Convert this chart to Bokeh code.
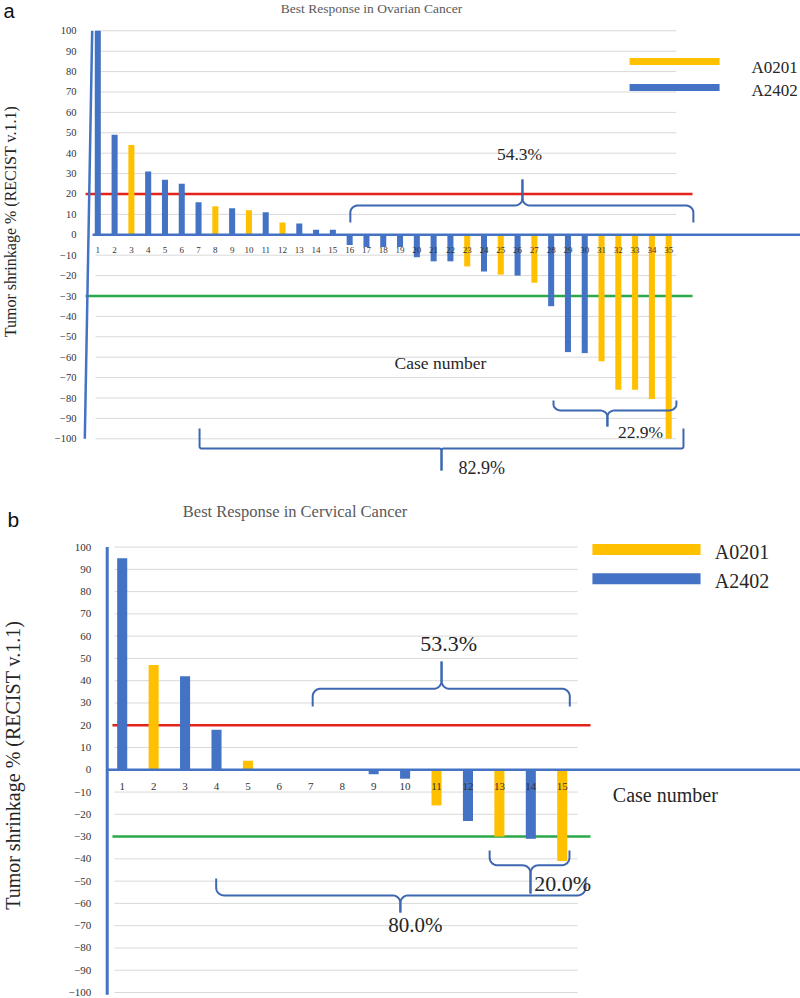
import numpy as np
from bokeh.plotting import figure
from bokeh.layouts import column
from bokeh.models import Range1d, FixedTicker, ColumnDataSource
from bokeh.core.properties import value
from bokeh.embed import file_html
from bokeh.resources import INLINE

# ---------------- data ----------------
cases_a = list(range(1, 36))
shrink_a = [100, 49, 44, 31, 27, 25, 16, 14, 13, 12, 11, 6, 5.5, 2.5, 2.5,
            -5, -6, -6, -6, -11, -13, -13, -15.5, -18, -19.5, -20, -23.5,
            -35, -57.5, -58, -62, -76, -76, -80.5, -100]
hla_a = ["A2402", "A2402", "A0201", "A2402", "A2402", "A2402", "A2402", "A0201",
         "A2402", "A0201", "A2402", "A0201", "A2402", "A2402", "A2402",
         "A2402", "A2402", "A2402", "A2402", "A2402", "A2402", "A2402",
         "A0201", "A2402", "A0201", "A2402", "A0201",
         "A2402", "A2402", "A2402", "A0201", "A0201", "A0201", "A0201", "A0201"]

cases_b = list(range(1, 16))
shrink_b = [95, 47, 42, 18, 4, 0, 0, 0, -2, -4, -16, -23, -30, -31, -41]
hla_b = ["A2402", "A0201", "A2402", "A2402", "A0201", "A2402", "A2402", "A2402",
         "A2402", "A2402", "A0201", "A2402", "A0201", "A2402", "A0201"]

y_ticks = list(range(-100, 101, 10))
thresholds = [20, -30]          # progression / partial response lines
groups = ["A0201", "A2402"]
pct_a = ["54.3%", "22.9%", "82.9%"]
pct_b = ["53.3%", "20.0%", "80.0%"]

COL = {"A0201": "#FFC000", "A2402": "#4472C4"}
AX = "#4472C4"
SERIF = "Liberation Serif"


def brace(x0, x1, y, yend, xtip, ytip, rx, ry, n=14):
    se = np.sign(yend - y)
    st = np.sign(ytip - y)
    th = np.linspace(0, np.pi / 2, n)
    lx, ly = [x0], [yend]
    cx, cy = x0 + rx, y + se * ry
    lx += list(cx - rx * np.cos(th)); ly += list(cy - se * ry * np.sin(th))
    cx, cy = xtip - rx, y + st * ry
    lx += list(cx + rx * np.sin(th)); ly += list(cy - st * ry * np.cos(th))
    lx += [xtip]; ly += [ytip]
    rxs, rys = [x1], [yend]
    cx, cy = x1 - rx, y + se * ry
    rxs += list(cx + rx * np.cos(th)); rys += list(cy - se * ry * np.sin(th))
    cx, cy = xtip + rx, y + st * ry
    rxs += list(cx - rx * np.sin(th)); rys += list(cy - st * ry * np.cos(th))
    rxs += [xtip]; rys += [ytip]
    return [lx, rxs], [ly, rys]


def txt(p, x, y, s, size, font=SERIF, color="#262626", align="center",
        baseline="middle", angle=0.0):
    p.text(x=[x], y=[y], text=[s], text_font=value(font),
           text_font_size=value(size), text_color=color, text_align=align,
           text_baseline=baseline, angle=angle)


def make_panel(h, xr, yr, cases, vals, hla, yaxis_x, ytick_size, xtick_size,
               xstand, ystand):
    p = figure(width=800, height=h, x_range=Range1d(*xr), y_range=Range1d(*yr),
               output_backend="svg", toolbar_location=None, title=None,
               min_border=0, min_border_left=0, min_border_right=0,
               min_border_top=0, min_border_bottom=0)
    p.outline_line_color = None
    p.xgrid.visible = False
    p.ygrid.visible = False
    p.background_fill_color = "white"

    xa = p.xaxis[0]
    xa.fixed_location = 0
    xa.ticker = FixedTicker(ticks=cases)
    xa.axis_line_color = None
    xa.major_tick_line_color = None
    xa.minor_tick_line_color = None
    xa.major_label_standoff = xstand
    xa.major_label_text_font = SERIF
    xa.major_label_text_font_size = xtick_size
    xa.major_label_text_color = "#333333"

    ya = p.yaxis[0]
    ya.fixed_location = yaxis_x
    ya.ticker = FixedTicker(ticks=y_ticks)
    ya.axis_line_color = None
    ya.major_tick_line_color = None
    ya.minor_tick_line_color = None
    ya.major_label_standoff = ystand
    ya.major_label_text_font = SERIF
    ya.major_label_text_font_size = ytick_size
    ya.major_label_text_color = "#333333"

    src = ColumnDataSource(dict(x=cases, top=vals,
                                color=[COL[g] for g in hla]))
    return p, src


# ================= panel a =================
xa_rng = (-4.795, 42.85)
ya_rng = (-124.36, 114.85)
pa, srca = make_panel(488, xa_rng, ya_rng, cases_a, shrink_a, hla_a,
                      0.446, "10.5px", "9px", 6, 6)
# gridlines
pa.segment(x0=0.86, x1=35.46, y0=y_ticks, y1=y_ticks, line_color="#d9d9d9",
           line_width=1)
# threshold lines
pa.segment(x0=0.27, x1=36.42, y0=thresholds[0], y1=thresholds[0],
           line_color="#E32219", line_width=2.5)
pa.segment(x0=0.27, x1=36.42, y0=thresholds[1], y1=thresholds[1],
           line_color="#2BA84A", line_width=2.5)
# bars
pa.vbar(x="x", top="top", bottom=0, width=0.36, source=srca,
        fill_color="color", line_color=None)
# axes lines
pa.segment(x0=[0.69], x1=[xa_rng[1]], y0=[0], y1=[0], line_color=AX,
           line_width=2.5)
pa.segment(x0=[0.226], x1=[0.666], y0=[-100], y1=[100], line_color=AX,
           line_width=2.5)
# braces
for args in [(16.04, 36.47, 14.36, 6.03, 26.29, 27.1, 0.45, 3.5),
             (28.14, 35.46, -86.1, -81.2, 31.35, -94.0, 0.45, 3.0),
             (7.06, 35.88, -104.75, -94.95, 21.47, -115.5, 0.12, 1.0)]:
    xs, ys = brace(*args)
    pa.multi_line(xs=xs, ys=ys, line_color="#3D67B0", line_width=2)
# legend
pa.rect(x=[35.35, 35.35], y=[84.95, 72.2], width=5.36, height=3.43,
        fill_color=[COL[g] for g in groups], line_color=None)
txt(pa, 39.93, 81.8, groups[0], "17px", align="left")
txt(pa, 39.93, 70.7, groups[1], "17px", align="left")
# texts
txt(pa, 17.30, 110.7, "Best Response in Ovarian Cancer", "13.5px",
    color="#595959")
txt(pa, -4.62, 109.9, "a", "20px", font="Liberation Sans", color="#111111",
    align="left")
txt(pa, -4.2, 6.5, "Tumor shrinkage % (RECIST v.1.1)", "16px",
    angle=np.pi / 2)
txt(pa, 21.41, -62.6, "Case number", "17.5px")
txt(pa, 26.12, 39.85, pct_a[0], "17.5px")
txt(pa, 33.32, -96.9, pct_a[1], "17.5px")
txt(pa, 22.48, -114.1, pct_a[2], "18px", align="left")

# ================= panel b =================
xb_rng = (-2.872, 22.58)
yb_rng = (-102.7, 126.3)
pb, srcb = make_panel(510, xb_rng, yb_rng, cases_b, shrink_b, hla_b,
                      0.523, "11px", "11px", 7, 10)
pb.segment(x0=0.75, x1=15.49, y0=y_ticks, y1=y_ticks, line_color="#d9d9d9",
           line_width=1)
pb.segment(x0=0.69, x1=15.90, y0=thresholds[0], y1=thresholds[0],
           line_color="#E32219", line_width=2.5)
pb.segment(x0=0.69, x1=15.90, y0=thresholds[1], y1=thresholds[1],
           line_color="#2BA84A", line_width=2.5)
pb.vbar(x="x", top="top", bottom=0, width=0.32, source=srcb,
        fill_color="color", line_color=None)
pb.segment(x0=[0.53], x1=[xb_rng[1]], y0=[0], y1=[0], line_color=AX,
           line_width=2.5)
pb.segment(x0=[0.523], x1=[0.523], y0=[-101], y1=[100], line_color=AX,
           line_width=3)
for args in [(7.06, 15.24, 36.4, 28.4, 11.16, 48.6, 0.25, 3.5),
             (12.69, 15.23, -42.9, -36.2, 13.99, -55.5, 0.25, 3.5),
             (3.99, 15.74, -56.4, -48.8, 9.85, -64.1, 0.25, 3.5)]:
    xs, ys = brace(*args)
    pb.multi_line(xs=xs, ys=ys, line_color="#3D67B0", line_width=2)
pb.rect(x=[17.68, 17.68], y=[98.9, 85.8], width=3.44, height=4.9,
        fill_color=[COL[g] for g in groups], line_color=None)
txt(pb, 19.85, 97.6, groups[0], "20px", align="left")
txt(pb, 19.85, 84.6, groups[1], "20px", align="left")
txt(pb, 6.5, 116.0, "Best Response in Cervical Cancer", "16.5px",
    color="#595959")
txt(pb, -2.65, 112.4, "b", "21px", font="Liberation Sans", color="#111111",
    align="left")
txt(pb, -2.49, 2.0, "Tumor shrinkage % (RECIST v.1.1)", "20px",
    angle=np.pi / 2)
txt(pb, 18.28, -11.5, "Case number", "20px")
txt(pb, 11.39, 56.6, pct_b[0], "22px")
txt(pb, 15.01, -51.2, pct_b[1], "22px")
txt(pb, 10.33, -69.9, pct_b[2], "21px")

layout = column(pa, pb, spacing=0)
open("out.html", "w").write(file_html(layout, INLINE))
